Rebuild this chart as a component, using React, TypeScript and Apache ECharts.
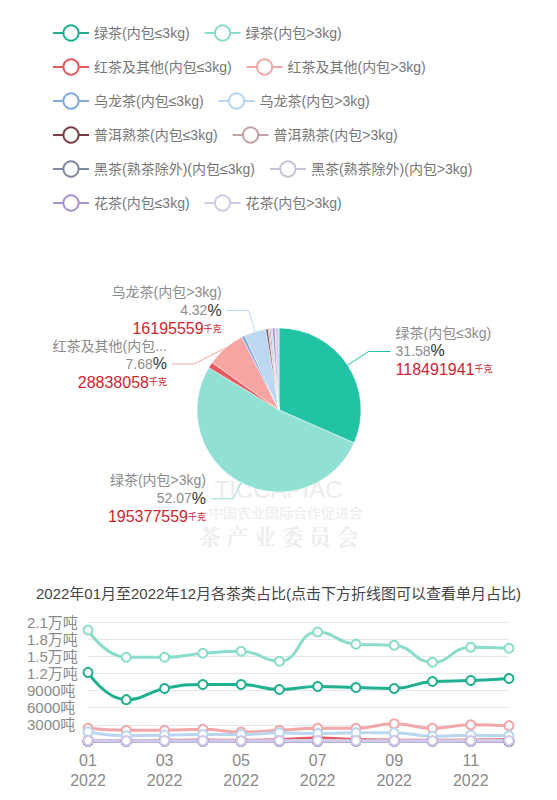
import React, { useEffect, useRef } from 'react';
import * as echarts from 'echarts';

const FONT = '"Liberation Sans", Arial, "Noto Sans CJK SC", sans-serif';

const seriesNames = [
  '绿茶(内包≤3kg)', '绿茶(内包>3kg)',
  '红茶及其他(内包≤3kg)', '红茶及其他(内包>3kg)',
  '乌龙茶(内包≤3kg)', '乌龙茶(内包>3kg)',
  '普洱熟茶(内包≤3kg)', '普洱熟茶(内包>3kg)',
  '黑茶(熟茶除外)(内包≤3kg)', '黑茶(熟茶除外)(内包>3kg)',
  '花茶(内包≤3kg)', '花茶(内包>3kg)',
];

const lineColors = [
  '#1FB08F', '#8ADCCB', '#E8595E', '#F2A7A8', '#7EAADF', '#BAD6EE',
  '#7B3D45', '#C4A1A4', '#7F88A4', '#C3C6D4', '#A792D2', '#D3C9E8',
];
const pieColors = [
  '#22C3A5', '#90E0D3', '#E85A5F', '#F6A5A3', '#7CA9DF', '#BDD7F0',
  '#6E3A40', '#C2A0A3', '#7B849F', '#C6C9D6', '#A893D3', '#D7CDEB',
];

// pie totals, kg
const pieValues = [
  118491941, 195377559, 4450000, 28838058, 2300000, 16195559,
  1500000, 1000000, 1000000, 1200000, 2000000, 2901883,
];
const pieLabelShown = [true, true, false, true, false, true, false, false, false, false, false, false];

const months = ['01', '02', '03', '04', '05', '06', '07', '08', '09', '10', '11', '12'];
const yearText = '2022';

// monthly, tons
const lvSmall = [12180, 7410, 9350, 10060, 10060, 9180, 9700, 9530, 9350, 10590, 10760, 11120];
const lvBig = [19590, 14820, 14820, 15530, 15880, 14120, 19240, 17120, 16940, 13940, 16590, 16410];
const hongSmall = [300, 250, 300, 350, 300, 400, 700, 450, 350, 300, 350, 400];
const hongBig = [2390, 2060, 2060, 2220, 1750, 2060, 2390, 2390, 3180, 2390, 3010, 2860];
const wuSmall = [200, 180, 190, 200, 180, 190, 200, 190, 200, 180, 190, 200];
const wuBig = [1800, 1100, 1200, 1300, 1300, 1600, 1500, 1600, 1600, 1000, 1200, 1100];
const puSmall = [130, 120, 120, 130, 120, 130, 120, 130, 120, 130, 120, 100];
const puBig = [90, 80, 80, 90, 80, 90, 80, 90, 80, 90, 80, 50];
const heiSmall = [90, 80, 80, 90, 80, 90, 80, 90, 80, 90, 80, 70];
const heiBig = [110, 100, 100, 110, 100, 100, 110, 100, 100, 90, 90, 90];
const huaSmall = [170, 160, 160, 170, 160, 170, 170, 160, 170, 160, 170, 180];
const huaBig = [250, 230, 240, 240, 230, 250, 250, 240, 240, 230, 250, 250];

const lineData = [lvSmall, lvBig, hongSmall, hongBig, wuSmall, wuBig, puSmall, puBig, heiSmall, heiBig, huaSmall, huaBig];

const yMax = 21000;
const yStep = 3000;

const titleText = '2022年01月至2022年12月各茶类占比(点击下方折线图可以查看单月占比)';

export default function App() {
  const ref = useRef<HTMLDivElement>(null);
  useEffect(() => {
    document.body.style.margin = '0';
    const chart = echarts.init(ref.current!, undefined, { renderer: 'svg' });
    const total = pieValues.reduce((a, b) => a + b, 0);

    const lineSeries = seriesNames.map((name, i) => ({
      name,
      type: 'line',
      smooth: true,
      data: lineData[i],
      symbol: 'emptyCircle',
      symbolSize: 9,
      color: lineColors[i],
      lineStyle: { width: 3, color: lineColors[i] },
      itemStyle: { color: lineColors[i], borderWidth: 2.5 },
      z: 3,
    }));

    const pieData = seriesNames.map((name, i) => ({
      name,
      value: pieValues[i],
      itemStyle: { color: pieColors[i] },
      label: { show: pieLabelShown[i] } as any,
      labelLine: { show: pieLabelShown[i] } as any,
    }));
    // 红茶 >3kg label truncated
    pieData[3].label.width = 122;
    pieData[3].label.overflow = 'truncate';
    pieData[0].labelLine.length = 25;
    pieData[5].labelLine.length = 22;

    chart.setOption({
      animation: false,
      textStyle: { fontFamily: FONT },
      legend: {
        data: seriesNames,
        left: 52,
        top: 23,
        width: 450,
        padding: 0,
        itemWidth: 36,
        itemHeight: 19,
        itemGap: 14,
        textStyle: { fontSize: 14, color: '#777', fontFamily: FONT, lineHeight: 20 },
      },
      title: {
        text: titleText,
        left: 'center',
        top: 581,
        textStyle: { fontSize: 15, fontWeight: 'normal', color: '#444', fontFamily: FONT },
      },
      graphic: [
        { type: 'text', left: 'center', top: 477, z: -1, style: { text: 'TICCAPIAC', fontSize: 24, fontFamily: FONT, fill: '#ececec' } },
        { type: 'text', left: 209, top: 506, z: -1, style: { text: '中国农业国际合作促进会', fontSize: 14, fontFamily: FONT, fill: '#ececec' } },
        { type: 'text', left: 'center', top: 524, z: -1, style: { text: '茶 产 业 委 员 会', fontSize: 22, fontWeight: 'bold', fontFamily: '"Noto Serif CJK SC", "Noto Sans CJK SC", serif', fill: '#ededed' } },
      ],
      grid: { left: 88, right: 48, top: 622, bottom: 58, containLabel: false },
      xAxis: {
        type: 'category',
        boundaryGap: false,
        data: months,
        axisLine: { show: false },
        axisTick: { show: false },
        axisLabel: {
          interval: 1,
          margin: 8,
          fontSize: 16,
          lineHeight: 20,
          color: '#8a8a8a',
          fontFamily: FONT,
          formatter: (v: string) => `${v}\n${yearText}`,
        },
      },
      yAxis: {
        type: 'value',
        min: 0,
        max: yMax,
        interval: yStep,
        axisLine: { show: false },
        axisTick: { show: false },
        splitLine: { lineStyle: { color: '#E6E6EE', width: 1 } },
        axisLabel: {
          align: 'left',
          margin: 61,
          fontSize: 15,
          color: '#8a8a8a',
          fontFamily: FONT,
          formatter: (v: number) => (v === 0 ? '' : v >= 10000 ? `${v / 10000}万吨` : `${v}吨`),
        },
      },
      series: [
        ...lineSeries,
        {
          name: '茶类占比',
          type: 'pie',
          center: [279, 410],
          radius: 82,
          startAngle: 90,
          clockwise: true,
          avoidLabelOverlap: true,
          itemStyle: { borderColor: '#fff', borderWidth: 0.5 },
          labelLine: { length: 18, length2: 22, lineStyle: { width: 1 } },
          label: {
            fontFamily: FONT,
            formatter: (p: any) => {
              const pct = ((p.value / total) * 100).toFixed(2);
              return `{n|${p.name}}\n{p|${pct}}{s|%}\n{v|${p.value}}{u|千克}`;
            },
            rich: {
              n: { fontSize: 14, color: '#8c8c8c', lineHeight: 18, fontFamily: FONT },
              p: { fontSize: 14, color: '#8c8c8c', lineHeight: 18, fontFamily: FONT },
              s: { fontSize: 16, color: '#333', lineHeight: 18, fontFamily: FONT },
              v: { fontSize: 16, color: '#D02530', lineHeight: 19, fontFamily: FONT },
              u: { fontSize: 9, color: '#D02530', lineHeight: 19, fontFamily: FONT },
            },
          },
          data: pieData,
        },
      ],
    });
    return () => chart.dispose();
  }, []);
  return <div ref={ref} style={{ width: 557, height: 800 }} />;
}
